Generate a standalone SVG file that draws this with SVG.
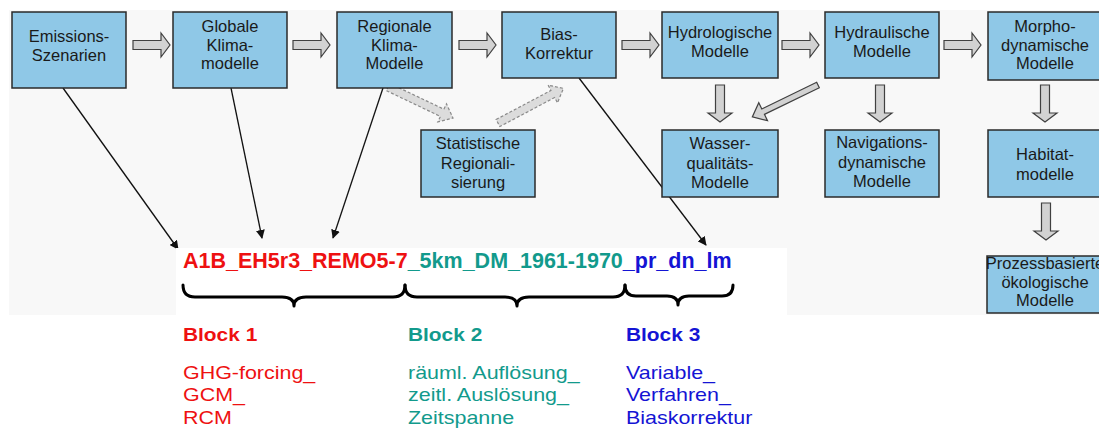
<svg xmlns="http://www.w3.org/2000/svg" width="1099" height="432" viewBox="0 0 1099 432">
  <style>
    .box { fill: #8fc8e7; stroke: #2a2a2a; stroke-width: 1.5; }
    .lbl { font-family: "Liberation Sans", Arial, sans-serif; font-size: 16.5px; fill: #1a1a1a; text-anchor: middle; }
    .blk { fill: #d2d2d2; stroke: #404040; stroke-width: 1.2; stroke-linejoin: miter; }
    .dash { fill: #dcdcdc; stroke: #8a8a8a; stroke-width: 1.2; stroke-dasharray: 3 2; }
    .ptr { fill: none; stroke: #111; stroke-width: 1.3; }
    .brace { fill: none; stroke: #000; stroke-width: 3; stroke-linecap: round; stroke-linejoin: round; }
    .code { font-family: "Liberation Sans", Arial, sans-serif; font-size: 21.5px; font-weight: bold; }
    .head { font-family: "Liberation Sans", Arial, sans-serif; font-size: 18px; font-weight: bold; }
    .desc { font-family: "Liberation Sans", Arial, sans-serif; font-size: 18.5px; }
    .red { fill: #ee1111; }
    .teal { fill: #129a8c; }
    .blue { fill: #1414d4; }
  </style>
  <defs>
    <marker id="tip" viewBox="0 0 10 10" refX="9" refY="5" markerWidth="9" markerHeight="9" markerUnits="userSpaceOnUse" orient="auto">
      <path d="M0,0 L10,5 L0,10 Z" fill="#111"/>
    </marker>
    <!-- block arrow pointing along +x, 37 long -->
    <path id="fat" d="M0,-4.5 H28 V-12 L37,0 L28,12 V4.5 H0 Z"/>
  </defs>

  <!-- backdrop -->
  <rect x="0" y="0" width="1099" height="432" fill="#ffffff"/>
  <rect x="9" y="10" width="1090" height="305" fill="#f8f8f8"/>

  <!-- connectors -->
  <g id="connectors">
    <!-- flow arrows between the model chain -->
    <use href="#fat" class="blk" transform="translate(133,45)"/>
    <use href="#fat" class="blk" transform="translate(293,45)"/>
    <use href="#fat" class="blk" transform="translate(459,45)"/>
    <use href="#fat" class="blk" transform="translate(622,45)"/>
    <use href="#fat" class="blk" transform="translate(782,45)"/>
    <use href="#fat" class="blk" transform="translate(944,45)"/>
    <!-- downward arrows -->
    <use href="#fat" class="blk" transform="translate(720,85) rotate(90)"/>
    <use href="#fat" class="blk" transform="translate(880,85) rotate(90)"/>
    <use href="#fat" class="blk" transform="translate(1045,85) rotate(90)"/>
    <use href="#fat" class="blk" transform="translate(1046,203) rotate(90)"/>
    <!-- Hydraulische -> Wasserqualitaet -->
    <path class="blk" transform="translate(818,85) rotate(154.1)" d="M0,-3 H61 V-10 L73,0 L61,10 V3 H0 Z"/>
    <!-- statistical downscaling branch (dashed) -->
    <path class="dash" transform="translate(388,87) rotate(25.5)" d="M0,-4 H60 V-10 L72,0 L60,10 V4 H0 Z"/>
    <path class="dash" transform="translate(498,123) rotate(-27.9)" d="M0,-4 H62 V-10 L74,0 L62,10 V4 H0 Z"/>
    <!-- pointers into the file name -->
    <line class="ptr" x1="63" y1="88" x2="178" y2="249" marker-end="url(#tip)"/>
    <line class="ptr" x1="231" y1="88" x2="262" y2="238" marker-end="url(#tip)"/>
    <line class="ptr" x1="383" y1="88" x2="333" y2="238" marker-end="url(#tip)"/>
    <line class="ptr" x1="579" y1="78" x2="706" y2="245" marker-end="url(#tip)"/>
  </g>

  <!-- panel behind the file name -->
  <rect x="176" y="248" width="611" height="184" fill="#ffffff"/>

  <g id="n-emissionen">
    <rect class="box" x="12" y="12" width="114" height="76"/>
    <text class="lbl" x="69" y="42">Emissions-</text>
    <text class="lbl" x="69" y="61">Szenarien</text>
  </g>
  <g id="n-gcm">
    <rect class="box" x="173" y="12" width="114" height="76"/>
    <text class="lbl" x="230" y="32">Globale</text>
    <text class="lbl" x="230" y="50.5">Klima-</text>
    <text class="lbl" x="230" y="69">modelle</text>
  </g>
  <g id="n-rcm">
    <rect class="box" x="337" y="12" width="115" height="76"/>
    <text class="lbl" x="394.5" y="32">Regionale</text>
    <text class="lbl" x="394.5" y="50.5">Klima-</text>
    <text class="lbl" x="394.5" y="69">Modelle</text>
  </g>
  <g id="n-bias">
    <rect class="box" x="502" y="12" width="114" height="66"/>
    <text class="lbl" x="559" y="40">Bias-</text>
    <text class="lbl" x="559" y="59">Korrektur</text>
  </g>
  <g id="n-hydrologie">
    <rect class="box" x="662" y="12" width="116" height="66"/>
    <text class="lbl" x="720" y="38">Hydrologische</text>
    <text class="lbl" x="720" y="57">Modelle</text>
  </g>
  <g id="n-hydraulik">
    <rect class="box" x="825" y="12" width="114" height="66"/>
    <text class="lbl" x="882" y="38">Hydraulische</text>
    <text class="lbl" x="882" y="57">Modelle</text>
  </g>
  <g id="n-morpho">
    <rect class="box" x="988" y="12" width="116" height="68"/>
    <text class="lbl" x="1045" y="32">Morpho-</text>
    <text class="lbl" x="1045" y="50.5">dynamische</text>
    <text class="lbl" x="1045" y="69">Modelle</text>
  </g>
  <g id="n-statistik">
    <rect class="box" x="421" y="130" width="114" height="67"/>
    <text class="lbl" x="478" y="149">Statistische</text>
    <text class="lbl" x="478" y="168.5">Regionali-</text>
    <text class="lbl" x="478" y="188">sierung</text>
  </g>
  <g id="n-wasser">
    <rect class="box" x="662" y="130" width="116" height="67"/>
    <text class="lbl" x="720" y="149">Wasser-</text>
    <text class="lbl" x="720" y="168.5">qualitäts-</text>
    <text class="lbl" x="720" y="188">Modelle</text>
  </g>
  <g id="n-navigation">
    <rect class="box" x="825" y="130" width="114" height="67"/>
    <text class="lbl" x="882" y="148">Navigations-</text>
    <text class="lbl" x="882" y="167.5">dynamische</text>
    <text class="lbl" x="882" y="187">Modelle</text>
  </g>
  <g id="n-habitat">
    <rect class="box" x="988" y="130" width="116" height="67"/>
    <text class="lbl" x="1045" y="160">Habitat-</text>
    <text class="lbl" x="1045" y="180">modelle</text>
  </g>
  <g id="n-oekologie">
    <rect class="box" x="987" y="256" width="116" height="57"/>
    <text class="lbl" x="1045" y="269">Prozessbasierte</text>
    <text class="lbl" x="1045" y="287.5">ökologische</text>
    <text class="lbl" x="1045" y="306">Modelle</text>
  </g>

  <!-- file name and its three blocks -->
  <g id="dateiname">
    <text class="code" x="183" y="268"><tspan class="red">A1B_EH5r3_REMO5-7</tspan><tspan class="teal">_5km_DM_1961-1970</tspan><tspan class="blue">_pr_dn_lm</tspan></text>
    <path class="brace" d="M183,285 Q183,297 195,297 H282 Q294,297 294,306 Q294,297 306,297 H393 Q405,297 405,285"/>
    <path class="brace" d="M405,285 Q405,297 417,297 H505 Q517,297 517,306 Q517,297 529,297 H613 Q625,297 625,285"/>
    <path class="brace" d="M625,285 Q625,296 636,296 H667 Q678,296 678,305 Q678,296 689,296 H722 Q733,296 733,285"/>
  </g>

  <g id="block1" transform="translate(183,0) scale(1.16,1)">
    <text class="head red" x="0" y="341">Block 1</text>
    <text class="desc red" x="0" y="379">GHG-forcing_</text>
    <text class="desc red" x="0" y="401.5">GCM_</text>
    <text class="desc red" x="0" y="424">RCM</text>
  </g>
  <g id="block2" transform="translate(408,0) scale(1.16,1)">
    <text class="head teal" x="0" y="341">Block 2</text>
    <text class="desc teal" x="0" y="379">räuml. Auflösung_</text>
    <text class="desc teal" x="0" y="401.5">zeitl. Auslösung_</text>
    <text class="desc teal" x="0" y="424">Zeitspanne</text>
  </g>
  <g id="block3" transform="translate(626,0) scale(1.16,1)">
    <text class="head blue" x="0" y="341">Block 3</text>
    <text class="desc blue" x="0" y="379">Variable_</text>
    <text class="desc blue" x="0" y="401.5">Verfahren_</text>
    <text class="desc blue" x="0" y="424">Biaskorrektur</text>
  </g>
</svg>
